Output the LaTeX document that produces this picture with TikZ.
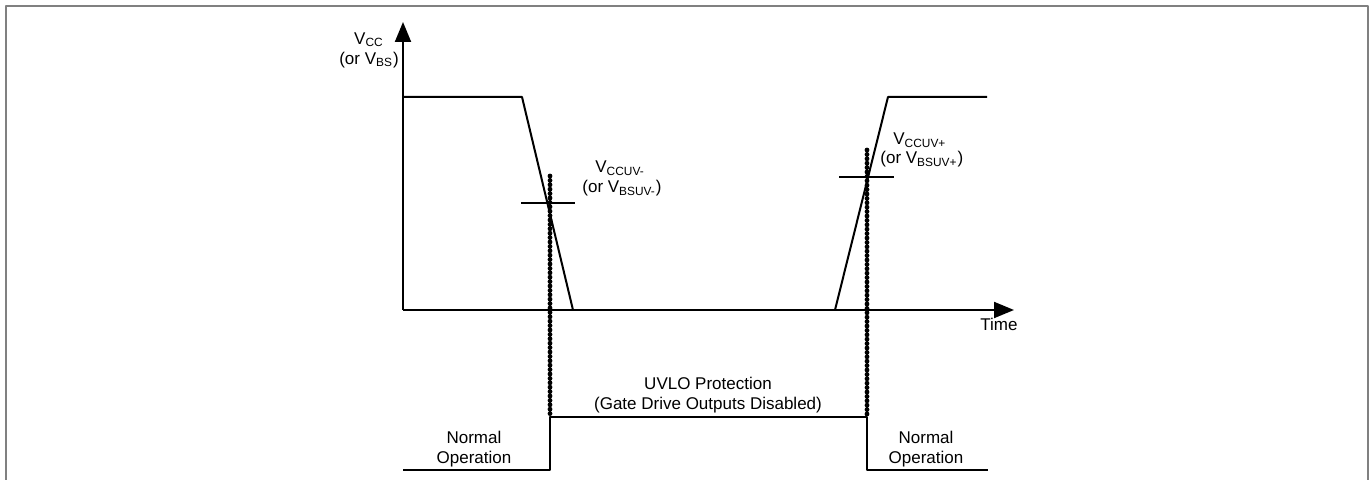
\documentclass[tikz,border=0pt]{standalone}
\usepackage{fontspec}
\setmainfont{Liberation Sans}
\usetikzlibrary{arrows.meta}
\begin{document}
\begin{tikzpicture}[x=0.5pt,y=-0.5pt,line join=round,font=\fontsize{8.5}{10}\selectfont,
	sig/.style={line width=1pt},
	chain/.style={line width=2.4pt,dash pattern=on 0pt off 2.2pt,line cap=round},
	lbl/.style={inner sep=0pt,align=center},
	>={Triangle[length=10pt,width=8pt]}]
	\useasboundingbox (0,0) rectangle (1371,480);
	%%% frame
	\draw[gray,line width=1pt](5.5,480)--(5.5,6.5)--(1368,6.5)--(1368,480);
	%%% axes
	\coordinate (O) at (403,310);
	\coordinate (Ytop) at (403,22);
	\coordinate (Xend) at (1014,310);
	\draw[sig,->](O)--(Ytop);
	\draw[sig,->](O)--(Xend);
	%%% supply voltage
	\coordinate (A) at (403,97);
	\coordinate (B) at (522,97);
	\coordinate (C) at (573,310);
	\coordinate (D) at (835,310);
	\coordinate (E) at (888,97);
	\coordinate (F) at (987,97);
	\draw[sig](A)--(B)--(C);
	\draw[sig](D)--(E)--(F);
	%%% thresholds
	\draw[sig](521,203)coordinate(T1)--(575,203);
	\draw[sig](839,177)coordinate(T2)--(894,177);
	%%% gate drive state
	\coordinate (G1) at (403,470);
	\coordinate (G2) at (550,470);
	\coordinate (G3) at (550,417);
	\coordinate (G4) at (867,417);
	\coordinate (G5) at (867,470);
	\coordinate (G6) at (988,470);
	\draw[sig](G1)--(G2)--(G3)--(G4)--(G5)--(G6);
	\draw[chain](550,176)--(G3);
	\draw[chain](867,150)--(G4);
	%%% labels
	\node[lbl] (vcc) at (369,50) {V\textsubscript{CC}\\(or V\textsubscript{BS})};
	\node[lbl,anchor=west] (uvm) at (595,168) {V\textsubscript{CCUV-}};
	\node[lbl,anchor=west] (uvmb) at (582,188) {(or V\textsubscript{BSUV-})};
	\node[lbl,anchor=west] (uvp) at (893,140) {V\textsubscript{CCUV+}};
	\node[lbl,anchor=west] (uvpb) at (880,159) {(or V\textsubscript{BSUV+})};
	\node[lbl] (time) at (999,324) {Time};
	\node[lbl] (uvlo) at (708,395) {UVLO Protection\\(Gate Drive Outputs Disabled)};
	\node[lbl] (norm1) at (474,449) {Normal\\Operation};
	\node[lbl] (norm2) at (926,449) {Normal\\Operation};
\end{tikzpicture}
\end{document}
